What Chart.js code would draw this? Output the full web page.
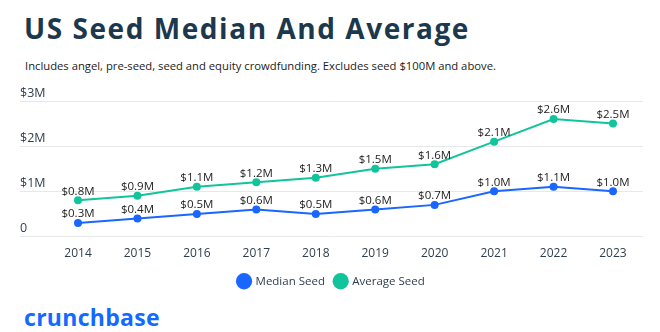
<!DOCTYPE html>
<html>
<head>
<meta charset="utf-8">
<script src="https://cdn.jsdelivr.net/npm/chart.js@4.4.1/dist/chart.umd.min.js"></script>
<style>
  html, body { margin: 0; padding: 0; background: #fff; width: 660px; height: 332px; overflow: hidden; font-family: "Open Sans", sans-serif; }
  #title { position: absolute; left: 24px; top: 9px; font-size: 28px; letter-spacing: 1.55px; font-weight: 700; color: #1c384d; white-space: nowrap; }
  #sub { position: absolute; left: 25px; top: 58px; font-size: 11.25px; color: #222; white-space: nowrap; }
  #wrap { position: absolute; left: 0; top: 80px; width: 660px; height: 220px; }
  #logo { position: absolute; left: 24px; top: 301px; font-size: 23px; letter-spacing: 0.3px; font-weight: 700; color: #146aff; }
</style>
</head>
<body>
<div id="title">US Seed Median And Average</div>
<div id="sub">Includes angel, pre-seed, seed and equity crowdfunding. Excludes seed $100M and above.</div>
<div id="wrap"><canvas id="chart"></canvas></div>
<div id="logo">crunchbase</div>
<script>
const years = [2014, 2015, 2016, 2017, 2018, 2019, 2020, 2021, 2022, 2023];
const medianSeed = [0.3, 0.4, 0.5, 0.6, 0.5, 0.6, 0.7, 1.0, 1.1, 1.0];
const averageSeed = [0.8, 0.9, 1.1, 1.2, 1.3, 1.5, 1.6, 2.1, 2.6, 2.5];
const yTicks = [0, 1, 2, 3];
const yTickLabels = ["0", "$1M", "$2M", "$3M"];

const blue = "#1a66ff";
const teal = "#12c49c";
const tickColor = "#2f3e4e";

// labels above every point
const valueLabels = {
  id: "valueLabels",
  afterDatasetsDraw(chart) {
    const ctx = chart.ctx;
    ctx.save();
    ctx.font = '11.5px "Open Sans"';
    ctx.fillStyle = "#222";
    ctx.textAlign = "center";
    ctx.textBaseline = "middle";
    chart.data.datasets.forEach((ds, i) => {
      chart.getDatasetMeta(i).data.forEach((pt, j) => {
        ctx.fillText("$" + ds.data[j].y.toFixed(1) + "M", pt.x, pt.y - 9);
      });
    });
    ctx.restore();
  }
};

function series(vals) {
  return vals.map((v, i) => ({ x: years[i], y: v }));
}

new Chart(document.getElementById("chart"), {
  type: "line",
  data: {
    datasets: [
      {
        label: "Median Seed",
        data: series(medianSeed),
        borderColor: blue,
        backgroundColor: blue,
        borderWidth: 2,
        pointRadius: 4,
        pointBorderWidth: 0
      },
      {
        label: "Average Seed",
        data: series(averageSeed),
        borderColor: teal,
        backgroundColor: teal,
        borderWidth: 2,
        pointRadius: 4,
        pointBorderWidth: 0
      }
    ]
  },
  options: {
    responsive: true,
    maintainAspectRatio: false,
    animation: false,
    layout: { padding: { left: 20, right: 17, top: 21, bottom: 3 } },
    plugins: {
      tooltip: { enabled: false },
      legend: {
        position: "bottom",
        labels: {
          usePointStyle: true,
          pointStyle: "circle",
          boxWidth: 12,
          boxHeight: 12,
          padding: 10,
          color: "#2f3e4e",
          font: { family: "Open Sans", size: 11.5 }
        }
      }
    },
    scales: {
      x: {
        type: "linear",
        min: 2013.024,
        max: 2023.505,
        grid: { display: false },
        border: { display: false },
        afterBuildTicks: s => { s.ticks = years.map(v => ({ value: v })); },
        afterFit: s => { s.height = 29; },
        ticks: {
          padding: 2,
          color: tickColor,
          font: { family: "Open Sans", size: 12 },
          callback: v => String(v)
        }
      },
      y: {
        min: 0,
        max: 3,
        grid: { color: "#e6e8eb", drawTicks: false },
        border: { display: false },
        afterBuildTicks: s => { s.ticks = yTicks.map(v => ({ value: v })); },
        ticks: {
          mirror: true,
          padding: 0,
          labelOffset: -8,
          color: tickColor,
          font: { family: "Open Sans", size: 12.5 },
          callback: v => yTickLabels[yTicks.indexOf(v)]
        }
      }
    }
  },
  plugins: [valueLabels]
});
</script>
</body>
</html>
